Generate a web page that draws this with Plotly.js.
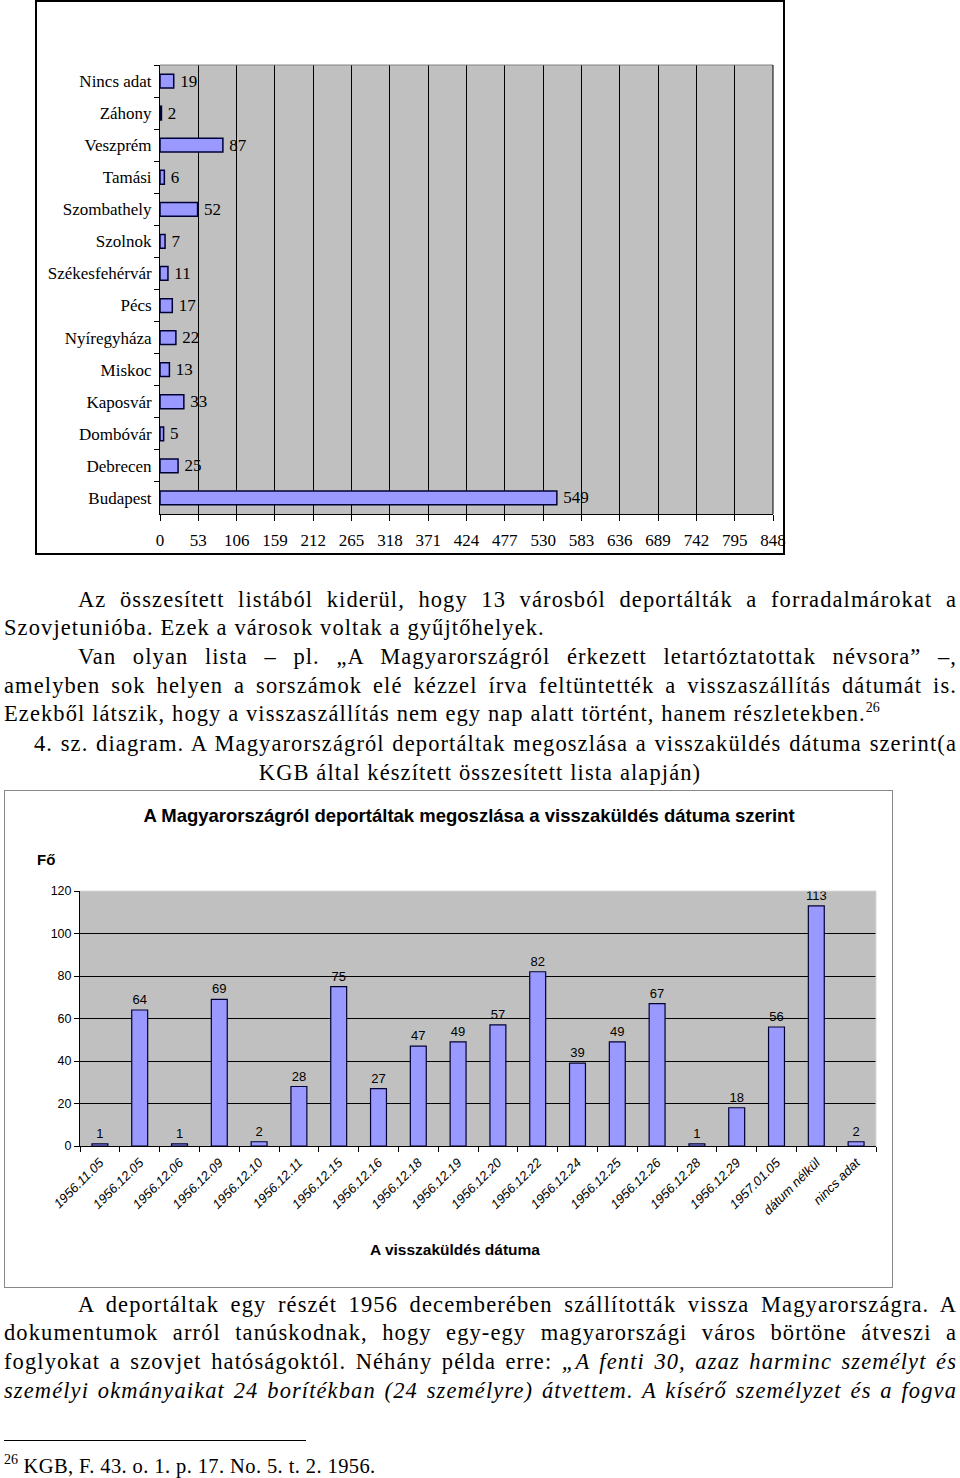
<!DOCTYPE html>
<html><head><meta charset="utf-8">
<script src="https://cdn.plot.ly/plotly-3.0.1.min.js"></script>
<style>
body{margin:0;width:960px;height:1478px;position:relative;background:#fff;overflow:hidden}
.t{position:absolute;font-family:"Liberation Serif","Times New Roman",serif;font-size:22.5px;line-height:28px;color:#000;letter-spacing:1.1px}
.j{text-align:justify;text-align-last:justify}
sup{font-size:14px;line-height:0;vertical-align:9px;letter-spacing:0}
#f1{position:absolute;left:35px;top:0px;width:750px;height:555px;border:2px solid #000;box-sizing:border-box;z-index:0}
#p1{position:absolute;left:37px;top:2px;z-index:1}
#c2{position:absolute;left:4px;top:790px;width:889px;height:498px;border:1px solid #888;box-sizing:border-box}
</style></head>
<body>
<div id="f1"></div>
<div id="p1"></div>

<div class="t j" style="top:586px;left:78px;width:879px">Az összesített listából kiderül, hogy 13 városból deportálták a forradalmárokat a</div>
<div class="t" style="top:614px;left:4px">Szovjetunióba. Ezek a városok voltak a gyűjtőhelyek.</div>
<div class="t j" style="top:643px;left:78px;width:879px">Van olyan lista – pl. „A Magyarországról érkezett letartóztatottak névsora” –,</div>
<div class="t j" style="top:672px;left:4px;width:953px">amelyben sok helyen a sorszámok elé kézzel írva feltüntették a visszaszállítás dátumát is.</div>
<div class="t" style="top:700px;left:4px">Ezekből látszik, hogy a visszaszállítás nem egy nap alatt történt, hanem részletekben.<sup>26</sup></div>
<div class="t j" style="top:730px;left:34px;width:923px">4. sz. diagram. A Magyarországról deportáltak megoszlása a visszaküldés dátuma szerint(a</div>
<div class="t" style="top:759px;left:0;width:960px;text-align:center">KGB által készített összesített lista alapján)</div>

<div id="c2"><div id="p2"></div></div>

<div class="t j" style="top:1291px;left:78px;width:879px">A deportáltak egy részét 1956 decemberében szállították vissza Magyarországra. A</div>
<div class="t j" style="top:1319px;left:4px;width:953px">dokumentumok arról tanúskodnak, hogy egy-egy magyarországi város börtöne átveszi a</div>
<div class="t j" style="top:1348px;left:4px;width:953px">foglyokat a szovjet hatóságoktól. Néhány példa erre: <i>„A fenti 30, azaz harminc személyt és</i></div>
<div class="t j" style="top:1377px;left:4px;width:953px"><i>személyi okmányaikat 24 borítékban (24 személyre) átvettem. A kísérő személyzet és a fogva</i></div>
<div style="position:absolute;top:1440px;left:4px;width:302px;height:1px;background:#000"></div>
<div class="t" style="top:1452px;left:4px;font-size:20.5px;letter-spacing:0.4px"><sup>26</sup> KGB, F. 43. o. 1. p. 17. No. 5. t. 2. 1956.</div>

<script>
// Chart 1 data
const cities = ['Nincs adat','Záhony','Veszprém','Tamási','Szombathely','Szolnok','Székesfehérvár','Pécs','Nyíregyháza','Miskoc','Kaposvár','Dombóvár','Debrecen','Budapest'];
const cityCounts = [19,2,87,6,52,7,11,17,22,13,33,5,25,549];
const cityTicks = [0,53,106,159,212,265,318,371,424,477,530,583,636,689,742,795,848];

// Chart 2 data
const dates = ['1956.11.05','1956.12.05','1956.12.06','1956.12.09','1956.12.10','1956.12.11','1956.12.15','1956.12.16','1956.12.18','1956.12.19','1956.12.20','1956.12.22','1956.12.24','1956.12.25','1956.12.26','1956.12.28','1956.12.29','1957.01.05','dátum nélkül','nincs adat'];
const dateCounts = [1,64,1,69,2,28,75,27,47,49,57,82,39,49,67,1,18,56,113,2];
const chart2Title = 'A Magyarországról deportáltak megoszlása a visszaküldés dátuma szerint';
const chart2YTitle = 'Fő';
const chart2XTitle = 'A visszaküldés dátuma';

const serif = 'Liberation Serif, Times New Roman, serif';
const sans = 'Liberation Sans, Arial, sans-serif';

// ---- Chart 1 ---- (svg wider than the frame so the last tick label is not clipped)
const W1 = 775, H1 = 551;
const m1 = {l:123, r:39, t:63, b:39};
Plotly.newPlot('p1', [{
  type:'bar', orientation:'h', x: cityCounts, y: cities,
  text: cityCounts.map(v => '\u2009' + v), textposition:'outside', cliponaxis:false, constraintext:'none',
  textfont:{family:serif, size:17, color:'#000'},
  marker:{color:'#9999FF', line:{color:'#000033', width:1.5}},
  hoverinfo:'none'
}], {
  width:W1, height:H1, margin:m1, showlegend:false,
  paper_bgcolor:'rgba(0,0,0,0)', plot_bgcolor:'#C0C0C0', bargap:0.57,
  xaxis:{range:[0,848], tickmode:'array', tickvals:cityTicks, ticktext:cityTicks.map(String),
    showgrid:true, gridcolor:'#000', gridwidth:1, ticklabeloverflow:'allow',
    ticks:'outside', ticklen:6, tickcolor:'#000', showline:true, linecolor:'#000', linewidth:1,
    zeroline:false, tickfont:{family:serif, size:17, color:'#000'}, ticklabelstandoff:5, fixedrange:true},
  yaxis:{type:'category', autorange:'reversed', ticks:'outside', tickson:'boundaries', ticklen:5,
    tickcolor:'#000', showline:true, linecolor:'#000', showgrid:false, zeroline:false,
    tickfont:{family:serif, size:17, color:'#000'}, ticklabelstandoff:4, fixedrange:true},
  shapes:[
    {type:'line', xref:'paper', yref:'paper', x0:0, x1:1, y0:1, y1:1, line:{color:'#808080', width:1}},
    {type:'line', xref:'paper', yref:'paper', x0:1, x1:1, y0:0, y1:1, line:{color:'#000', width:1}}
  ]
}, {staticPlot:true});

// ---- Chart 2 ----
const W2 = 887, H2 = 496;
const m2 = {l:75, r:16, t:100, b:141};
const pw = W2 - m2.l - m2.r, ph = H2 - m2.t - m2.b;
const px = x => (x - m2.l) / pw;          // container px -> paper x
const py = y => (H2 - m2.b - y) / ph;     // container px -> paper y
Plotly.newPlot('p2', [{
  type:'bar', x: dates, y: dateCounts,
  text: dateCounts.map(String), textposition:'outside', cliponaxis:false, constraintext:'none',
  textfont:{family:sans, size:13, color:'#000'},
  marker:{color:'#9999FF', line:{color:'#000033', width:1.2}},
  hoverinfo:'none'
}], {
  width:W2, height:H2, margin:m2, showlegend:false,
  paper_bgcolor:'#fff', plot_bgcolor:'#C0C0C0', bargap:0.6,
  title:{text:'<b>'+chart2Title+'</b>', font:{family:sans, size:18.5, color:'#000'},
    xref:'container', yref:'container', x:464/W2, y:1-25/H2, xanchor:'center', yanchor:'middle'},
  xaxis:{type:'category', tickangle:-45, ticks:'outside', tickson:'boundaries', ticklen:5, tickcolor:'#000',
    showline:true, linecolor:'#000', showgrid:false, zeroline:false, ticklabelstandoff:3,
    tickfont:{family:sans, size:13, color:'#000', style:'italic'}, fixedrange:true},
  yaxis:{range:[0,120], dtick:20, showgrid:true, gridcolor:'#000', gridwidth:1, ticks:'outside', ticklen:5,
    tickcolor:'#000', showline:true, linecolor:'#000', zeroline:false,
    tickfont:{family:sans, size:12.5, color:'#000'}, fixedrange:true},
  shapes:[
    {type:'line', xref:'paper', yref:'paper', x0:0, x1:1, y0:1, y1:1, line:{color:'#d8d8d8', width:1}},
    {type:'line', xref:'paper', yref:'paper', x0:1, x1:1, y0:0, y1:1, line:{color:'#d8d8d8', width:1}}
  ],
  annotations:[
    {text:'<b>'+chart2YTitle+'</b>', xref:'paper', yref:'paper', x:px(41), y:py(68), showarrow:false,
     font:{family:sans, size:15, color:'#000'}, xanchor:'center', yanchor:'middle'},
    {text:'<b>'+chart2XTitle+'</b>', xref:'paper', yref:'paper', x:px(450), y:py(459), showarrow:false,
     font:{family:sans, size:15.5, color:'#000'}, xanchor:'center', yanchor:'middle'}
  ]
}, {staticPlot:true});
</script>
</body></html>
